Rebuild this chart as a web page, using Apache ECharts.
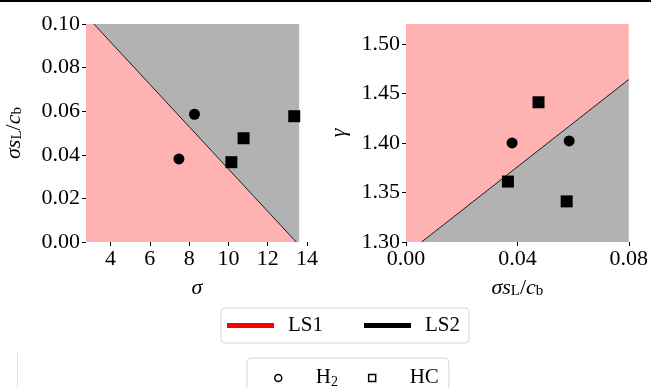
<!DOCTYPE html>
<html>
<head>
<meta charset="utf-8">
<script src="https://cdn.jsdelivr.net/npm/echarts@6/dist/echarts.min.js"></script>
<style>
  html, body { margin: 0; padding: 0; background: #fff; }
  #chart { width: 651px; height: 388px; }
</style>
</head>
<body>
<div id="chart"></div>
<script>
  // 左图: sigma vs sigma*sL/cb
  const leftXTicks = [4, 6, 8, 10, 12, 14];
  const leftYTicks = [0, 0.02, 0.04, 0.06, 0.08, 0.10];
  const leftRange = { xMin: 2.75, xMax: 14.05, yMin: 0, yMax: 0.10 };
  const leftPink = [[2.75, 0], [2.75, 0.10], [3.15, 0.10], [13.45, 0]];
  const leftGrey = [[3.15, 0.10], [13.6, 0.10], [13.6, 0], [13.45, 0]];
  const leftLS2 = [[3.15, 0.10], [13.45, 0.0]];
  const leftH2 = [[7.48, 0.0381], [8.27, 0.0586]];
  const leftHC = [[10.15, 0.0366], [10.77, 0.0476], [13.35, 0.0577]];

  // 右图: sigma*sL/cb vs gamma
  const rightXTicks = [0, 0.04, 0.08];
  const rightYTicks = [1.30, 1.35, 1.40, 1.45, 1.50];
  const rightRange = { xMin: 0, xMax: 0.08, yMin: 1.30, yMax: 1.52 };
  const rightPink = [[0, 1.30], [0.0056, 1.30], [0.08, 1.464], [0.08, 1.52], [0, 1.52]];
  const rightGrey = [[0.0056, 1.30], [0.08, 1.30], [0.08, 1.464]];
  const rightLS2 = [[0.0056, 1.30], [0.08, 1.464]];
  const rightH2 = [[0.0381, 1.400], [0.0586, 1.402]];
  const rightHC = [[0.0366, 1.361], [0.0476, 1.441], [0.0577, 1.341]];

  const FONT = 'Liberation Serif';
  const PINK = '#ffb2b2';
  const GREY = '#b2b2b2';

  const nameRich = {
    i: { fontFamily: FONT, fontStyle: 'italic', fontSize: 22, color: '#000', lineHeight: 22, verticalAlign: 'top' },
    r: { fontFamily: FONT, fontSize: 22, color: '#000', lineHeight: 22, verticalAlign: 'top' },
    s: { fontFamily: FONT, fontSize: 15, color: '#000', lineHeight: 16, verticalAlign: 'bottom', padding: [9, 0, 0, 0] }
  };

  function valueAxis(gridIndex, range, ticks, digits, extra) {
    return Object.assign({
      type: 'value',
      gridIndex: gridIndex,
      min: range.min, max: range.max,
      splitLine: { show: false },
      axisLine: { show: false },
      axisTick: { show: true, length: 4, customValues: ticks, lineStyle: { color: '#000', width: 1 } },
      axisLabel: {
        customValues: ticks, fontFamily: FONT, fontSize: 22, color: '#000', margin: 6,
        formatter: v => digits === 0 ? String(Math.round(v)) : v.toFixed(digits)
      },
      nameLocation: 'middle',
      nameTextStyle: { rich: nameRich }
    }, extra);
  }

  function polygonSeries(points, color, xi, yi) {
    return {
      type: 'custom', xAxisIndex: xi, yAxisIndex: yi, silent: true, z: 1,
      data: [0],
      renderItem: function (params, api) {
        return {
          type: 'polygon',
          shape: { points: points.map(p => api.coord(p)) },
          style: { fill: color, stroke: null }
        };
      }
    };
  }

  const markerStyle = { color: '#000', opacity: 1 };

  const option = {
    animation: false,
    backgroundColor: '#fff',
    grid: [
      { left: 82, top: 24, width: 226, height: 218 },
      { left: 406, top: 24, width: 225, height: 218 }
    ],
    xAxis: [
      valueAxis(0, { min: leftRange.xMin, max: leftRange.xMax }, leftXTicks, 0,
        { name: '{i|σ}', nameGap: 35 }),
      valueAxis(1, { min: rightRange.xMin, max: rightRange.xMax }, rightXTicks, 2,
        { name: '{i|σs}{s|L}{r|/}{i|c}{s|b}', nameGap: 33 })
    ],
    yAxis: [
      valueAxis(0, { min: leftRange.yMin, max: leftRange.yMax }, leftYTicks, 2,
        { name: '{i|σs}{s|L}{r|/}{i|c}{s|b}', nameGap: 61, nameRotate: 90 }),
      valueAxis(1, { min: rightRange.yMin, max: rightRange.yMax }, rightYTicks, 2,
        { name: '{i|γ}', nameGap: 56, nameRotate: 90 })
    ],
    legend: [
      {
        left: 221, top: 308,
        data: [
          { name: 'LS1', icon: 'rect', itemStyle: { color: '#ff0000' } },
          { name: 'LS2', icon: 'rect', itemStyle: { color: '#000000' } }
        ],
        itemWidth: 47, itemHeight: 5, itemGap: 41,
        padding: [7, 9, 7, 6],
        borderColor: '#d5d5d5', borderWidth: 1, borderRadius: 4,
        textStyle: { fontFamily: FONT, fontSize: 21, color: '#000', padding: [0, 0, 0, 9] }
      },
      {
        left: 247, top: 358,
        data: [
          { name: 'H2', icon: 'circle', itemStyle: { color: '#fff', borderColor: '#000', borderWidth: 1.5 } },
          { name: 'HC', icon: 'rect', itemStyle: { color: '#fff', borderColor: '#000', borderWidth: 1.5 } }
        ],
        itemWidth: 7, itemHeight: 7, itemGap: 30,
        padding: [8, 10, 8, 27],
        borderColor: '#d5d5d5', borderWidth: 1, borderRadius: 4,
        formatter: n => n === 'H2' ? '{n|H}{s|2}' : '{n|' + n + '}',
        textStyle: {
          fontFamily: FONT, fontSize: 21, color: '#000', padding: [0, 0, 0, 29],
          rich: {
            n: { fontFamily: FONT, fontSize: 21, color: '#000', lineHeight: 22, verticalAlign: 'top' },
            s: { fontFamily: FONT, fontSize: 14, color: '#000', lineHeight: 16, verticalAlign: 'bottom', padding: [9, 0, 0, 0] }
          }
        }
      }
    ],
    graphic: [
      { type: 'rect', left: 0, top: 0, shape: { width: 651, height: 2 }, style: { fill: '#000' } },
      { type: 'rect', left: 17, top: 353, shape: { width: 1, height: 35 }, style: { fill: '#e2e2e2' } }
    ],
    series: [
      polygonSeries(leftPink, PINK, 0, 0),
      polygonSeries(leftGrey, GREY, 0, 0),
      polygonSeries(rightPink, PINK, 1, 1),
      polygonSeries(rightGrey, GREY, 1, 1),
      { name: 'LS1', type: 'line', xAxisIndex: 0, yAxisIndex: 0, data: [], color: '#ff0000' },
      {
        name: 'LS2', type: 'line', xAxisIndex: 0, yAxisIndex: 0, data: leftLS2, z: 3,
        showSymbol: false, color: '#000', lineStyle: { color: '#1a1a1a', width: 1 }
      },
      {
        name: 'LS2', type: 'line', xAxisIndex: 1, yAxisIndex: 1, data: rightLS2, z: 3,
        showSymbol: false, color: '#000', lineStyle: { color: '#1a1a1a', width: 1 }
      },
      { name: 'H2', type: 'scatter', xAxisIndex: 0, yAxisIndex: 0, data: leftH2, symbol: 'circle', symbolSize: 11, itemStyle: markerStyle, z: 4 },
      { name: 'HC', type: 'scatter', xAxisIndex: 0, yAxisIndex: 0, data: leftHC, symbol: 'rect', symbolSize: 12, itemStyle: markerStyle, z: 4 },
      { name: 'H2', type: 'scatter', xAxisIndex: 1, yAxisIndex: 1, data: rightH2, symbol: 'circle', symbolSize: 11, itemStyle: markerStyle, z: 4 },
      { name: 'HC', type: 'scatter', xAxisIndex: 1, yAxisIndex: 1, data: rightHC, symbol: 'rect', symbolSize: 12, itemStyle: markerStyle, z: 4 }
    ]
  };

  const chartObj = echarts.init(document.getElementById('chart'), null, { renderer: 'canvas' });
  chartObj.setOption(option);
</script>
</body>
</html>
